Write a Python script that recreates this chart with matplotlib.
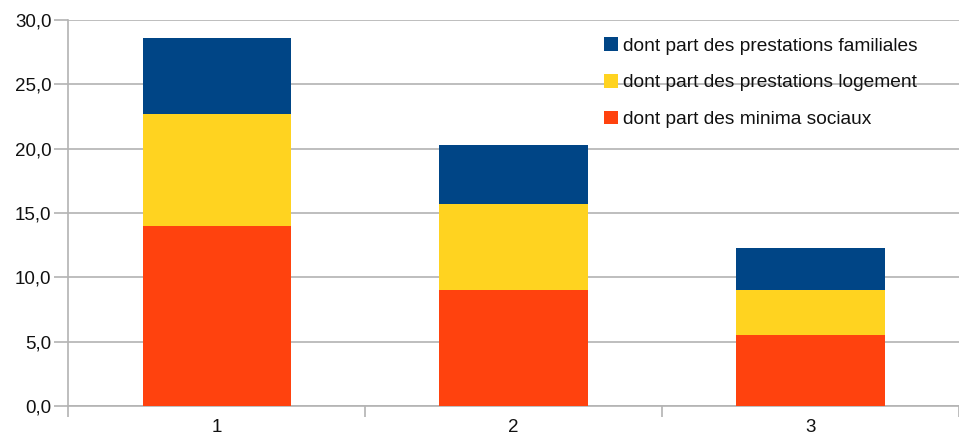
import matplotlib.pyplot as plt
from matplotlib.patches import Patch
from matplotlib.ticker import FuncFormatter

plt.rcParams['font.family'] = ['Liberation Sans', 'DejaVu Sans']

categories = ["1", "2", "3"]
minima = [14.0, 9.05, 5.5]
logement = [8.7, 6.65, 3.55]
familiales = [5.9, 4.6, 3.2]
labels = ["dont part des minima sociaux",
          "dont part des prestations logement",
          "dont part des prestations familiales"]
colors = ["#ff420e", "#ffd320", "#004586"]

fig = plt.figure(figsize=(9.59, 4.37), dpi=100)
ax = fig.add_axes([0.0712, 0.0709, 0.9288, 0.8833])

x = [1, 2, 3]
bottom = [0.0, 0.0, 0.0]
for vals, c in zip([minima, logement, familiales], colors):
    ax.bar(x, vals, width=0.5, bottom=bottom, color=c, zorder=3)
    bottom = [b + v for b, v in zip(bottom, vals)]

ax.set_xlim(0.5, 3.5)
ax.set_ylim(0, 30)
ax.set_yticks(range(0, 31, 5))
ax.yaxis.set_major_formatter(FuncFormatter(lambda v, p: ("%.1f" % v).replace(".", ",")))
ax.set_xticks(x)
ax.set_xticklabels(categories)
ax.set_xticks([0.5, 1.5, 2.5, 3.5], minor=True)
ax.tick_params(axis='x', which='major', length=0, pad=9, labelsize=13.5, labelcolor='#111111')
ax.tick_params(axis='x', which='minor', length=8, color='#b3b3b3', width=1.2)
ax.tick_params(axis='y', length=10, color='#b3b3b3', width=1.2, labelsize=13.5,
               labelcolor='#111111', pad=2)

ax.grid(axis='y', color='#b3b3b3', linewidth=1.2, zorder=0)
for s in ['top', 'right']:
    ax.spines[s].set_visible(False)
for s in ['left', 'bottom']:
    ax.spines[s].set_color('#b3b3b3')
    ax.spines[s].set_linewidth(1.2)

handles = [Patch(facecolor=c, label=l) for c, l in zip(colors, labels)][::-1]
leg = ax.legend(handles=handles, loc='upper left', bbox_to_anchor=(0.582, 1.0),
                frameon=False, fontsize=13.8, handlelength=0.72, handleheight=0.72,
                handletextpad=0.25, labelspacing=1.0)
for t in leg.get_texts():
    t.set_color('#111111')

fig.savefig("out.png", dpi=100)
